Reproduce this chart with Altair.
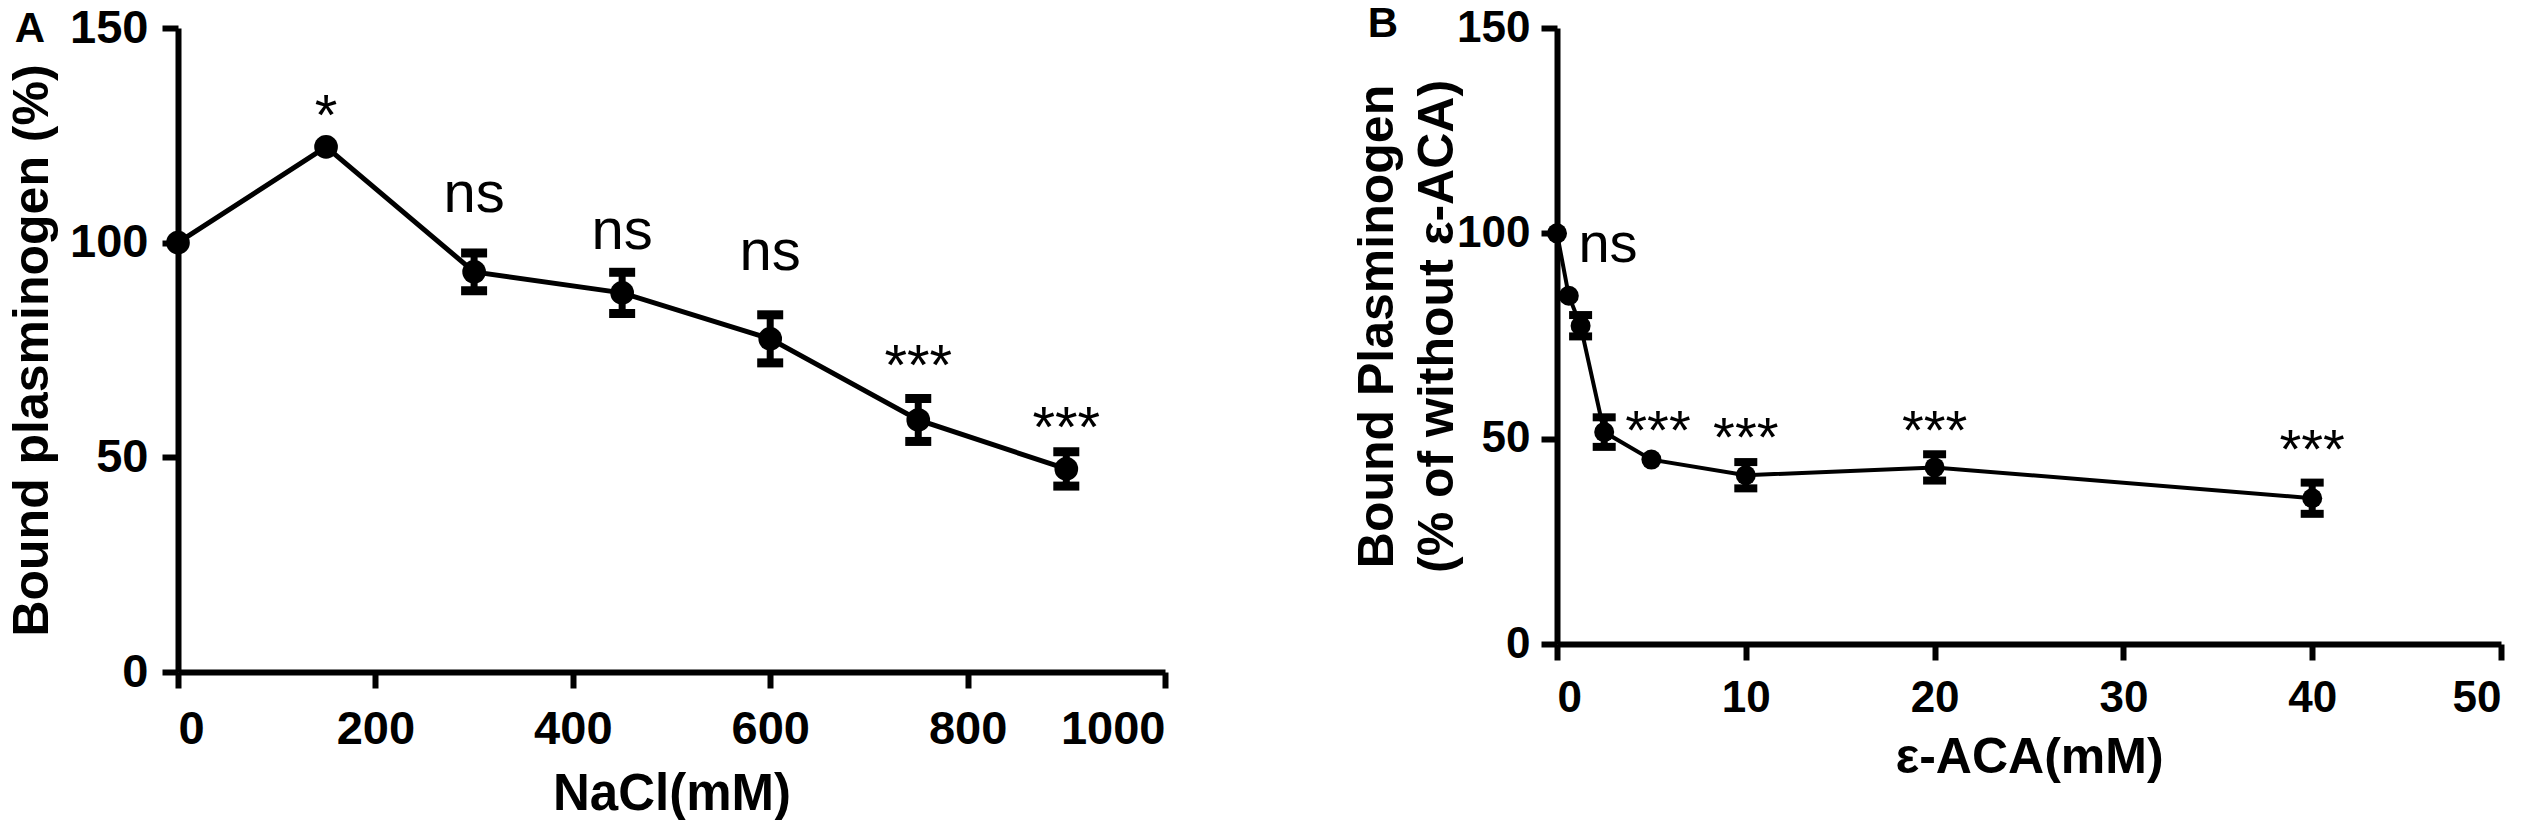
import altair as alt
import pandas as pd

# ---- Panel A data ----
nacl = [0, 150, 300, 450, 600, 750, 900]
bound_a = [100, 122.3, 93.2, 88.3, 77.6, 58.7, 47.3]
err_a = [0, 0, 4.4, 4.8, 5.6, 5.0, 4.0]
ann_a_x = [150, 300, 450, 600, 750, 900]
ann_a_y = [129, 111.2, 102.6, 97.6, 70.8, 56.4]
ann_a_t = ["*", "ns", "ns", "ns", "***", "***"]

# ---- Panel B data ----
aca = [0, 0.625, 1.25, 2.5, 5, 10, 20, 40]
bound_b = [100, 84.8, 77.5, 51.6, 44.9, 41.1, 43.0, 35.5]
err_b = [0, 0, 2.6, 3.6, 0, 3.2, 3.2, 3.8]
ann_b_x = [2.7, 5.35, 10, 20, 40]
ann_b_y = [97.1, 51.7, 49.8, 51.7, 46.9]
ann_b_t = ["ns", "***", "***", "***", "***"]

FONT = "Liberation Sans, Arial, Helvetica, sans-serif"

da = pd.DataFrame({"x": nacl, "y": bound_a, "e": err_a})
da["lo"] = da["y"] - da["e"]
da["hi"] = da["y"] + da["e"]
db = pd.DataFrame({"x": aca, "y": bound_b, "e": err_b})
db["lo"] = db["y"] - db["e"]
db["hi"] = db["y"] + db["e"]
aa = pd.DataFrame({"x": ann_a_x, "y": ann_a_y, "t": ann_a_t})
ab = pd.DataFrame({"x": ann_b_x, "y": ann_b_y, "t": ann_b_t})


def axis_common(**kw):
    base = dict(
        grid=False, domainColor="black", domainWidth=6, tickColor="black",
        tickWidth=6, tickSize=16, labelFont=FONT, labelFontWeight="bold",
        labelColor="black", titleFont=FONT, titleFontWeight="bold",
        titleColor="black", labelOverlap=False, format="d",
    )
    base.update(kw)
    return alt.Axis(**base)


def panel(df, ann, xdom, xticks, xtitle, ytitle, w, h, pt_size, lw, cap,
          capw, lab_size, xt_size, yt_size, yt_lh, xpad, ypad, xtitle_y,
          ytitle_x, ytitle_y, letter, lx, ly, ann_size):
    xs = alt.Scale(domain=xdom, nice=False, zero=False)
    ys = alt.Scale(domain=[0, 150], nice=False)
    xax = axis_common(values=xticks, title=xtitle, labelFontSize=lab_size,
                      labelPadding=xpad, titleFontSize=xt_size,
                      titleY=xtitle_y, titleBaseline="middle")
    ykw = dict(values=[0, 50, 100, 150], title=ytitle,
               labelFontSize=lab_size, labelPadding=ypad,
               titleFontSize=yt_size, titleX=ytitle_x,
               titleY=ytitle_y, titleBaseline="middle",
               titleAlign="center", titleAngle=270)
    if yt_lh:
        ykw["titleLineHeight"] = yt_lh
    yax = axis_common(**ykw)

    def X(f):
        return alt.X(f, type="quantitative", scale=xs, axis=xax)

    def Y(f):
        return alt.Y(f, type="quantitative", scale=ys, axis=yax)

    base = alt.Chart(df)
    line = base.mark_line(color="black", strokeWidth=lw).encode(
        x=X("x"), y=Y("y"))
    eb = base.transform_filter("datum.e > 0").mark_errorbar(
        color="black", opacity=1,
        rule=alt.MarkConfig(strokeWidth=7, color="black", opacity=1),
        ticks=alt.TickConfig(size=cap, thickness=capw, color="black",
                             opacity=1),
    ).encode(x=X("x"), y=Y("lo"), y2="hi:Q")
    pts = base.mark_point(filled=True, shape="circle", size=pt_size,
                          color="black", opacity=1).encode(
        x=X("x"), y=Y("y"))
    txt = alt.Chart(ann).mark_text(font=FONT, fontSize=ann_size,
                                   color="black", baseline="middle",
                                   align="center").encode(
        x=X("x"), y=Y("y"), text="t:N")
    let = alt.Chart(pd.DataFrame({"t": [letter]})).mark_text(
        font=FONT, fontSize=42, fontWeight="bold", color="black",
        baseline="middle", align="center").encode(
        text="t:N", x=alt.value(lx), y=alt.value(ly))
    return alt.layer(line, eb, pts, txt, let).properties(width=w, height=h)


pa = panel(da, aa, [0, 1000], [0, 200, 400, 600, 800, 1000], "NaCl(mM)",
           "Bound plasminogen (%)", 987, 644, 560, 5, 26, 9, 47, 51, 50, 0,
           18, 14, 122, -146, 322, "A", -148, 1, 58)
pb = panel(db, ab, [0, 50], [0, 10, 20, 30, 40, 50], "ε-ACA(mM)",
           ["Bound Plasminogen", "(% of without ε-ACA)"], 944, 616, 400, 4,
           23, 8, 44, 50, 50, 60, 16, 11, 113, -180, 298, "B", -174, -4, 56)

chart = alt.hconcat(pa, pb, spacing=392, bounds="flush").properties(
    autosize=alt.AutoSizeParams(type="none"),
    padding={"left": 170, "top": 20, "right": 2348, "bottom": 792},
).configure_view(stroke=None)

chart.save("out.html", embed_options={"renderer": "svg", "actions": False})
